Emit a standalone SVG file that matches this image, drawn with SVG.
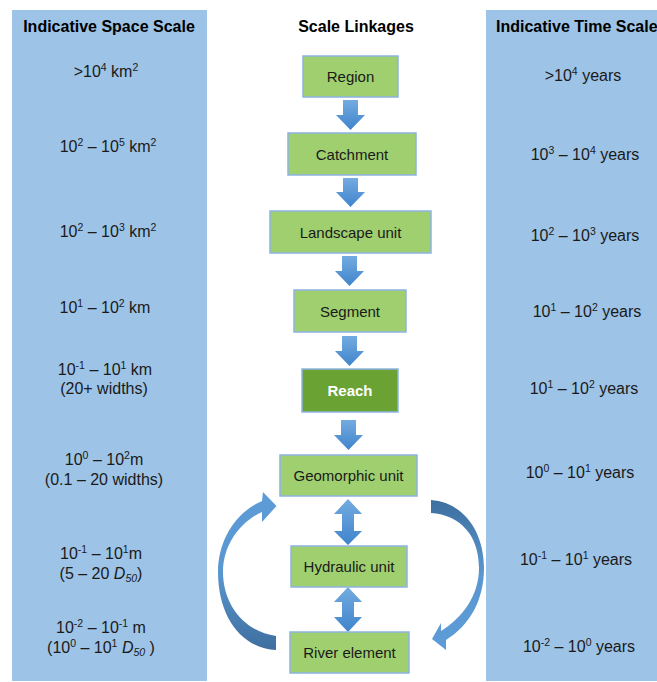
<svg xmlns="http://www.w3.org/2000/svg" width="657" height="682" viewBox="0 0 657 682">
<defs>
<style>
.col{fill:#9dc3e6}
.hdr{font-family:"Liberation Sans",Arial,sans-serif;font-size:16px;font-weight:bold;fill:#000}
.t{font-family:"Liberation Sans",Arial,sans-serif;font-size:16px;fill:#1a1a1a;text-anchor:middle}
.sup{font-size:10.5px}
.sub{font-size:10.5px;font-style:italic}
.it{font-style:italic}
.box{fill:#9fcf6e;stroke:#8db4e2;stroke-width:1.5}
.dark{fill:#6aa233;stroke:#8db4e2;stroke-width:1.5}
.lbl{font-family:"Liberation Sans",Arial,sans-serif;font-size:15px;fill:#1a1a1a;text-anchor:middle}
.lblw{font-family:"Liberation Sans",Arial,sans-serif;font-size:15px;font-weight:bold;fill:#fff;text-anchor:middle}
.blk{fill:url(#gBlk)}
</style>
<linearGradient id="gBlk" x1="0" y1="0" x2="0" y2="1">
<stop offset="0" stop-color="#74abe0"/>
<stop offset="1" stop-color="#3f84cc"/>
</linearGradient>
<linearGradient id="gL" gradientUnits="userSpaceOnUse" x1="0" y1="492" x2="0" y2="650">
<stop offset="0" stop-color="#5d9cd8"/>
<stop offset="0.5" stop-color="#5a97d0"/>
<stop offset="1" stop-color="#3e6f9f"/>
</linearGradient>
<linearGradient id="gR" gradientUnits="userSpaceOnUse" x1="0" y1="500" x2="0" y2="650">
<stop offset="0" stop-color="#3e6f9f"/>
<stop offset="0.5" stop-color="#5a97d0"/>
<stop offset="1" stop-color="#5d9cd8"/>
</linearGradient>
</defs>
<rect width="657" height="682" fill="#fff"/>

<g id="space-column">
<rect class="col" x="12" y="10" width="195" height="671"/>
<text class="hdr" x="109" y="32" text-anchor="middle">Indicative Space Scale</text>
<text class="t" x="106" y="77">&gt;10<tspan class="sup" dy="-6">4</tspan><tspan dy="6"> km</tspan><tspan class="sup" dy="-6">2</tspan></text>
<text class="t" x="108" y="152">10<tspan class="sup" dy="-6">2</tspan><tspan dy="6"> – 10</tspan><tspan class="sup" dy="-6">5</tspan><tspan dy="6"> km</tspan><tspan class="sup" dy="-6">2</tspan></text>
<text class="t" x="108" y="237">10<tspan class="sup" dy="-6">2</tspan><tspan dy="6"> – 10</tspan><tspan class="sup" dy="-6">3</tspan><tspan dy="6"> km</tspan><tspan class="sup" dy="-6">2</tspan></text>
<text class="t" x="105" y="313">10<tspan class="sup" dy="-6">1</tspan><tspan dy="6"> – 10</tspan><tspan class="sup" dy="-6">2</tspan><tspan dy="6"> km</tspan></text>
<text class="t" x="105" y="375">10<tspan class="sup" dy="-6">-1</tspan><tspan dy="6"> – 10</tspan><tspan class="sup" dy="-6">1</tspan><tspan dy="6"> km</tspan></text>
<text class="t" x="104" y="394">(20+ widths)</text>
<text class="t" x="104" y="465">10<tspan class="sup" dy="-6">0</tspan><tspan dy="6"> – 10</tspan><tspan class="sup" dy="-6">2</tspan><tspan dy="6">m</tspan></text>
<text class="t" x="104" y="485">(0.1 – 20 widths)</text>
<text class="t" x="101" y="559">10<tspan class="sup" dy="-6">-1</tspan><tspan dy="6"> – 10</tspan><tspan class="sup" dy="-6">1</tspan><tspan dy="6">m</tspan></text>
<text class="t" x="101" y="579">(5 – 20 <tspan class="it">D</tspan><tspan class="sub" dy="3">50</tspan><tspan dy="-3">)</tspan></text>
<text class="t" x="101" y="633">10<tspan class="sup" dy="-6">-2</tspan><tspan dy="6"> – 10</tspan><tspan class="sup" dy="-6">-1</tspan><tspan dy="6"> m</tspan></text>
<text class="t" x="101" y="653">(10<tspan class="sup" dy="-6">0</tspan><tspan dy="6"> – 10</tspan><tspan class="sup" dy="-6">1</tspan><tspan dy="6"> </tspan><tspan class="it">D</tspan><tspan class="sub" dy="3">50</tspan><tspan dy="-3"> )</tspan></text>
</g>

<g id="time-column">
<rect class="col" x="486" y="10" width="180" height="671"/>
<text class="hdr" x="496" y="32">Indicative Time Scale</text>
<text class="t" x="583" y="81">&gt;10<tspan class="sup" dy="-6">4</tspan><tspan dy="6"> years</tspan></text>
<text class="t" x="585" y="160">10<tspan class="sup" dy="-6">3</tspan><tspan dy="6"> – 10</tspan><tspan class="sup" dy="-6">4</tspan><tspan dy="6"> years</tspan></text>
<text class="t" x="585" y="241">10<tspan class="sup" dy="-6">2</tspan><tspan dy="6"> – 10</tspan><tspan class="sup" dy="-6">3</tspan><tspan dy="6"> years</tspan></text>
<text class="t" x="587" y="317">10<tspan class="sup" dy="-6">1</tspan><tspan dy="6"> – 10</tspan><tspan class="sup" dy="-6">2</tspan><tspan dy="6"> years</tspan></text>
<text class="t" x="584" y="394">10<tspan class="sup" dy="-6">1</tspan><tspan dy="6"> – 10</tspan><tspan class="sup" dy="-6">2</tspan><tspan dy="6"> years</tspan></text>
<text class="t" x="580" y="478">10<tspan class="sup" dy="-6">0</tspan><tspan dy="6"> – 10</tspan><tspan class="sup" dy="-6">1</tspan><tspan dy="6"> years</tspan></text>
<text class="t" x="576" y="565">10<tspan class="sup" dy="-6">-1</tspan><tspan dy="6"> – 10</tspan><tspan class="sup" dy="-6">1</tspan><tspan dy="6"> years</tspan></text>
<text class="t" x="579" y="652">10<tspan class="sup" dy="-6">-2</tspan><tspan dy="6"> – 10</tspan><tspan class="sup" dy="-6">0</tspan><tspan dy="6"> years</tspan></text>
</g>

<text class="hdr" x="356" y="32" text-anchor="middle">Scale Linkages</text>

<g id="connectors">
<path class="blk" d="M343,100 H358 V115 H365 L350.5,130 L336,115 H343 Z"/>
<path class="blk" d="M343,178 H358 V192 H365 L350.5,207 L336,192 H343 Z"/>
<path class="blk" d="M342,256 H357 V271 H364 L349.5,286 L335,271 H342 Z"/>
<path class="blk" d="M342,336 H357 V351 H364 L349.5,366 L335,351 H342 Z"/>
<path class="blk" d="M341,420 H356 V435 H363 L348.5,450 L334,435 H341 Z"/>
<path class="blk" d="M348,499 L362,514 H354 V531 H362 L348,545 L334,531 H342 V514 H334 Z"/>
<path class="blk" d="M348,587 L362,602 H354 V617 H362 L348,632 L334,617 H342 V602 H334 Z"/>
<path fill="url(#gL)" d="M276,650 C240,648 218,615 218,572 C218,540 236,512 262,501 L263,492 L276.5,506 L262,522 L262,512 C240,522 223,545 223,572 C223,605 245,632 276,636 Z"/>
<path fill="url(#gR)" d="M431,500 C462,502 484,530 484,568 C484,600 470,625 446,640 L446,650 L432,639 L441,623 L441,631 C462,618 479,596 479,568 C479,535 460,515 431,513 Z"/>
</g>

<g id="region"><rect class="box" x="303" y="56" width="95" height="41"/><text class="lbl" x="350.5" y="82">Region</text></g>
<g id="catchment"><rect class="box" x="288" y="133" width="128" height="42"/><text class="lbl" x="352" y="159.5">Catchment</text></g>
<g id="landscape-unit"><rect class="box" x="270" y="211" width="161" height="42"/><text class="lbl" x="350.5" y="237.5">Landscape unit</text></g>
<g id="segment"><rect class="box" x="294" y="290" width="112" height="42"/><text class="lbl" x="350" y="316.5">Segment</text></g>
<g id="reach"><rect class="dark" x="302" y="369" width="96" height="43"/><text class="lblw" x="350" y="396">Reach</text></g>
<g id="geomorphic-unit"><rect class="box" x="280" y="455" width="137" height="41"/><text class="lbl" x="348.5" y="481">Geomorphic unit</text></g>
<g id="hydraulic-unit"><rect class="box" x="291" y="546" width="116" height="41"/><text class="lbl" x="349" y="572">Hydraulic unit</text></g>
<g id="river-element"><rect class="box" x="290" y="632" width="119" height="41"/><text class="lbl" x="349.5" y="658">River element</text></g>
</svg>
